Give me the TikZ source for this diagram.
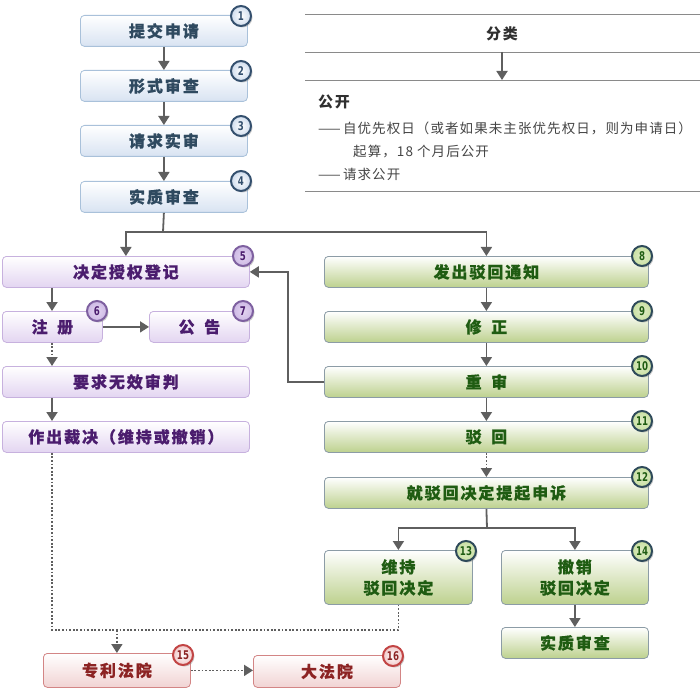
\documentclass[tikz,border=0pt]{standalone}
\usepackage{fontspec}
\setmainfont{Noto Sans CJK SC}
\newfontfamily\numfont{DejaVu Sans}[FakeStretch=0.72]
\usetikzlibrary{arrows.meta,shadows}
\definecolor{blueB}{HTML}{A9C1DA}
\definecolor{blueF}{HTML}{D8E3F2}
\definecolor{blueT}{HTML}{2F4A60}
\definecolor{blueK}{HTML}{34506E}
\definecolor{purB}{HTML}{C7B1DE}
\definecolor{purF}{HTML}{E3D5F1}
\definecolor{purT}{HTML}{4B1D6E}
\definecolor{purK}{HTML}{7E60A0}
\definecolor{purKF}{HTML}{CDB9E4}
\definecolor{grnB}{HTML}{8C9CA6}
\definecolor{grnF}{HTML}{BDD18E}
\definecolor{grnT}{HTML}{1F5C12}
\definecolor{grnK}{HTML}{2E4A5A}
\definecolor{grnKF}{HTML}{C9E0A2}
\definecolor{redB}{HTML}{D38585}
\definecolor{redF}{HTML}{F1D3D3}
\definecolor{redT}{HTML}{8C2323}
\definecolor{redK}{HTML}{C24444}
\definecolor{redKF}{HTML}{F1C8C8}
\definecolor{arrC}{HTML}{5F5F5F}
\definecolor{ruleC}{HTML}{8A8A8A}
\definecolor{txtC}{HTML}{444444}
\tikzset{
  box/.style={rounded corners=4pt, draw, line width=0.8pt, inner sep=0pt, anchor=north west, align=center,
    font=\bfseries\fontsize{16}{21}\selectfont\addfontfeature{LetterSpace=12,FakeBold=0.6}},
  bluebox/.style={box, draw=blueB, top color=white, bottom color=blueF, text=blueT},
  purbox/.style={box, draw=purB, top color=white, bottom color=purF, text=purT},
  grnbox/.style={box, draw=grnB, top color=white, bottom color=grnF, text=grnT},
  redbox/.style={box, draw=redB, top color=white, bottom color=redF, text=redT},
  badge/.style={circle, minimum size=20pt, inner sep=0pt, line width=2pt,
    font=\numfont\bfseries\fontsize{12}{12}\selectfont,
    drop shadow={shadow xshift=1.5pt, shadow yshift=-1.5pt, opacity=0.4}},
  bbadge/.style={badge, draw=blueK, inner color=white, outer color=blueF!80!blueB, text=blueK},
  pbadge/.style={badge, draw=purK, inner color=purF, outer color=purKF, text=purT},
  gbadge/.style={badge, draw=grnK, inner color=grnKF!60!white, outer color=grnKF, text=grnT},
  rbadge/.style={badge, draw=redK, inner color=white, outer color=redKF, text=redT},
  arr/.style={draw=arrC, line width=1.8pt, -{Triangle[length=9pt,width=11pt]}},
  ln/.style={draw=arrC, line width=1.8pt},
  dotln/.style={draw=arrC, line width=1.8pt, dash pattern=on 1.8pt off 1.8pt},
  dotarr/.style={dotln, -{Triangle[length=9pt,width=11pt]}},
  rulel/.style={draw=ruleC, line width=0.9pt},
  body/.style={inner sep=0pt, anchor=west, text=txtC, font=\fontsize{13.5}{16}\selectfont\addfontfeature{LetterSpace=8}}
}
\begin{document}
\begin{tikzpicture}[x=1pt,y=-1pt]
\useasboundingbox (0,0) rectangle (700,692);
% blue column
\node[bluebox, minimum width=167pt, minimum height=31pt] (s1) at (80,15) {提交申请};
\node[bluebox, minimum width=167pt, minimum height=31pt] (s2) at (80,70) {形式审查};
\node[bluebox, minimum width=167pt, minimum height=31pt] (s3) at (80,125) {请求实审};
\node[bluebox, minimum width=167pt, minimum height=31pt] (s4) at (80,181) {实质审查};
\node[bbadge] (b1) at (241,16) {1};
\node[bbadge] (b2) at (241,71) {2};
\node[bbadge] (b3) at (241,126) {3};
\node[bbadge] (b4) at (241,181) {4};
\draw[arr] (s1) -- (s2);
\draw[arr] (s2) -- (s3);
\draw[arr] (s3) -- (s4);
% top right
\draw[rulel] (305,14) -- (700,14);
\draw[rulel] (305,52) -- (700,52);
\draw[rulel] (305,80) -- (700,80);
\draw[rulel] (305,191) -- (700,191);
\node[inner sep=0pt, text=txtC!70!black, font=\bfseries\fontsize{15}{16}\selectfont\addfontfeature{LetterSpace=12}] (fl) at (502,34) {分类};
\coordinate (fa) at (502,52);
\coordinate (fb) at (502,80);
\draw[arr] (fa) -- (fb);
\node[inner sep=0pt, anchor=west, text=txtC!70!black, font=\bfseries\fontsize{15}{16}\selectfont\addfontfeature{LetterSpace=12}] (gk) at (318,102) {公开};
\node[body] (t1) at (318,128) {——\,自优先权日（或者如果未主张优先权日，则为申请日）};
\node[body] (t2) at (353,152) {起算，18 个月后公开};
\node[body] (t3) at (318,174) {——\,请求公开};
% purple column
\node[purbox, minimum width=247pt, minimum height=31pt] (p1) at (2,256) {决定授权登记};
\node[purbox, minimum width=100pt, minimum height=31pt] (p2) at (2,311) {注\hspace{0.6em}册};
\node[purbox, minimum width=100pt, minimum height=31pt] (p3) at (149,311) {公\hspace{0.6em}告};
\node[purbox, minimum width=247pt, minimum height=31pt] (p4) at (2,366) {要求无效审判};
\node[purbox, minimum width=247pt, minimum height=31pt] (p5) at (2,421) {作出裁决（维持或撤销）};
\node[pbadge] (b5) at (243,256) {5};
\node[pbadge] (b6) at (97,311) {6};
\node[pbadge] (b7) at (243,311) {7};
% green column
\node[grnbox, minimum width=324pt, minimum height=31pt] (g1) at (324,256) {发出驳回通知};
\node[grnbox, minimum width=324pt, minimum height=31pt] (g2) at (324,311) {修\hspace{0.6em}正};
\node[grnbox, minimum width=324pt, minimum height=31pt] (g3) at (324,366) {重\hspace{0.6em}审};
\node[grnbox, minimum width=324pt, minimum height=31pt] (g4) at (324,421) {驳\hspace{0.6em}回};
\node[grnbox, minimum width=324pt, minimum height=31pt] (g5) at (324,477) {就驳回决定提起申诉};
\node[grnbox, minimum width=148pt, minimum height=54pt] (g6) at (324,550) {维持\\驳回决定};
\node[grnbox, minimum width=147pt, minimum height=54pt] (g7) at (501,550) {撤销\\驳回决定};
\node[grnbox, minimum width=147pt, minimum height=31pt] (g8) at (501,627) {实质审查};
\node[gbadge] (b8) at (642,256) {8};
\node[gbadge] (b9) at (642,311) {9};
\node[gbadge] (b10) at (642,366) {10};
\node[gbadge] (b11) at (642,421) {11};
\node[gbadge] (b12) at (642,477) {12};
\node[gbadge] (b13) at (466,551) {13};
\node[gbadge] (b14) at (642,551) {14};
% red
\node[redbox, minimum width=147pt, minimum height=34pt] (r1) at (43,653) {专利法院};
\node[redbox, minimum width=147pt, minimum height=32pt] (r2) at (253,655) {大法院};
\node[rbadge] (b15) at (183,655) {15};
\node[rbadge] (b16) at (393,656) {16};
% connectors
\coordinate (j1) at (163,232);
\draw[ln] (s4.south) -- (j1);
\draw[arr] (j1) -| (p1.north);
\draw[arr] (j1) -| (g1.north);
\coordinate (c0) at (52,0);
\draw[arr] (c0 |- p1.south) -- (c0 |- p2.north);
\draw[arr] (p2.east) -- (p3.west);
\draw[dotarr] (c0 |- p2.south) -- (c0 |- p4.north);
\draw[arr] (c0 |- p4.south) -- (c0 |- p5.north);
\draw[arr] (g1) -- (g2);
\draw[arr] (g2) -- (g3);
\draw[arr] (g3) -- (g4);
\draw[dotarr] (g4) -- (g5);
\coordinate (k1) at (288,0);
\draw[arr] (g3.west) -- (g3.west -| k1) |- (p1.east);
\coordinate (j2) at (487,528);
\draw[ln] (g5.south) -- (j2);
\draw[arr] (j2) -| (g6.north);
\draw[arr] (j2) -| (g7.north);
\draw[arr] (g7) -- (g8);
\coordinate (c1) at (52,630);
\draw[dotln] (c1 |- p5.south) -- (c1) -| (g6.south);
\draw[dotarr] (r1.north |- c1) -- (r1.north);
\draw[dotarr] (r1.east) -- (r1.east -| r2.west);
\end{tikzpicture}
\end{document}
